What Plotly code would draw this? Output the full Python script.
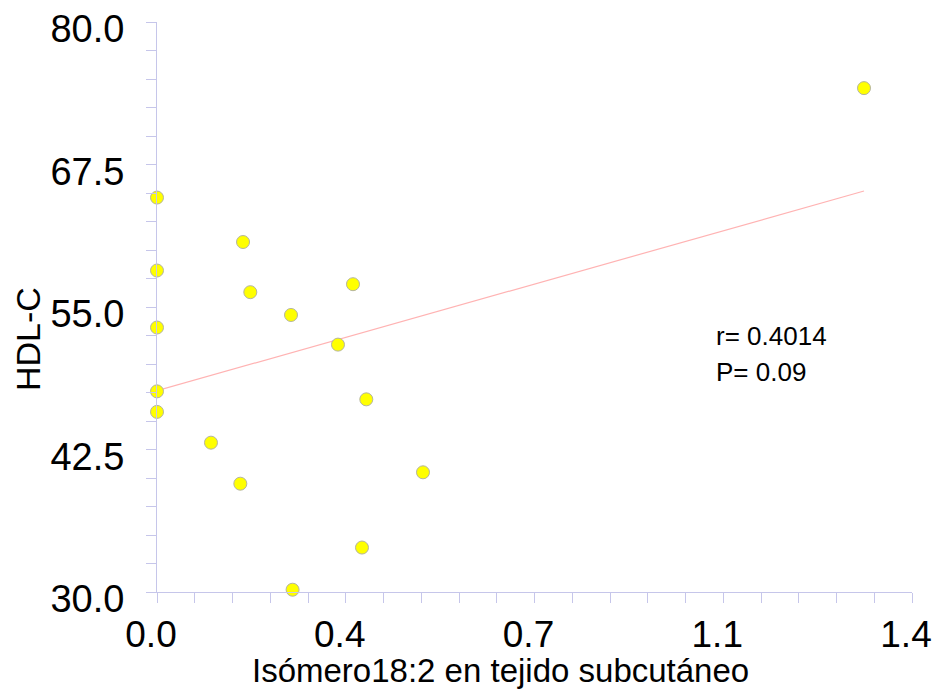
import plotly.graph_objects as go

# Data
x_vals = [0.0, 0.1595, 0.0, 0.173, 0.3634, 0.2485, 0.0, 0.3356, 0.0, 0.3881,
          0.0, 0.1001, 0.1545, 0.2514, 0.3801, 0.4932, 1.311]
y_vals = [64.6, 60.7, 58.2, 56.3, 57.0, 54.3, 53.2, 51.7, 47.6, 46.9,
          45.8, 43.1, 39.5, 30.2, 33.9, 40.5, 74.2]

fit_intercept = 47.66
fit_slope = 13.36

x_tickvals = [0.0, 0.35, 0.7, 1.05, 1.4]
x_ticktext = ["0.0", "0.4", "0.7", "1.1", "1.4"]
y_tickvals = [30.0, 42.5, 55.0, 67.5, 80.0]
y_ticktext = ["30.0", "42.5", "55.0", "67.5", "80.0"]

x_title = "Isómero18:2 en tejido subcutáneo"
y_title = "HDL-C"
stats_lines = ["r= 0.4014", "P= 0.09"]

line_x = [0.0, max(x_vals)]
line_y = [fit_intercept + fit_slope * v for v in line_x]

AXIS_COLOR = "#c6c6ea"
FONT = "Liberation Sans, Arial, sans-serif"

L, R, T, B = 157, 23, 22, 100
W, H = 935, 692


def px_to_paper(px, py):
    return (px - L) / (W - L - R), 1 - (py - T) / (H - T - B)


fig = go.Figure()
fig.add_trace(go.Scatter(
    x=line_x, y=line_y, mode="lines",
    line=dict(color="#ffb3b3", width=1.2),
    hoverinfo="skip", showlegend=False, cliponaxis=False,
))
fig.add_trace(go.Scatter(
    x=x_vals, y=y_vals, mode="markers",
    marker=dict(size=13, color="#ffff00", line=dict(color="#b4b4a0", width=1)),
    showlegend=False, cliponaxis=False,
))

annotations = []
for i, txt in enumerate(stats_lines):
    ax, ay = px_to_paper(714, 336 + 36 * i)
    annotations.append(dict(
        x=ax, y=ay, xref="paper", yref="paper", text=txt,
        showarrow=False, xanchor="left", yanchor="middle", align="left",
        font=dict(size=26, family=FONT, color="black"),
    ))

# axis titles (positioned like the reference, off-centre)
tx, ty = px_to_paper(500, 670)
annotations.append(dict(
    x=tx, y=ty, xref="paper", yref="paper", text=x_title,
    showarrow=False, xanchor="center", yanchor="middle",
    font=dict(size=33, family=FONT, color="black"),
))
tx, ty = px_to_paper(28, 339)
annotations.append(dict(
    x=tx, y=ty, xref="paper", yref="paper", text=y_title, textangle=-90,
    showarrow=False, xanchor="center", yanchor="middle",
    font=dict(size=34, family=FONT, color="black"),
))

fig.update_layout(
    template="none",
    width=W, height=H,
    margin=dict(l=L, r=R, t=T, b=B, autoexpand=False),
    paper_bgcolor="white", plot_bgcolor="white",
    font=dict(family=FONT, color="black"),
    xaxis=dict(
        range=[0, 1.4], showgrid=False, zeroline=False, automargin=False,
        showline=True, linecolor=AXIS_COLOR, linewidth=1,
        ticks="outside", ticklen=10, tickcolor=AXIS_COLOR, tickwidth=1,
        tickvals=x_tickvals, ticktext=x_ticktext,
        tickfont=dict(size=37, family=FONT),
        ticklabeloverflow="allow", ticklabelshift=-6,
        minor=dict(dtick=0.07, tick0=0, ticks="outside", ticklen=10,
                   tickcolor=AXIS_COLOR, tickwidth=1),
    ),
    yaxis=dict(
        range=[30, 80], showgrid=False, zeroline=False, automargin=False,
        showline=True, linecolor=AXIS_COLOR, linewidth=1,
        ticks="outside", ticklen=10, tickcolor=AXIS_COLOR, tickwidth=1,
        tickvals=y_tickvals, ticktext=y_ticktext,
        tickfont=dict(size=38, family=FONT),
        ticklabelstandoff=14, ticklabelshift=7, ticklabeloverflow="allow",
        minor=dict(dtick=2.5, tick0=30, ticks="outside", ticklen=10,
                   tickcolor=AXIS_COLOR, tickwidth=1),
    ),
    annotations=annotations,
)

fig.write_html("out.html", config={"displayModeBar": False},
               post_script="document.body.style.margin='0';")
